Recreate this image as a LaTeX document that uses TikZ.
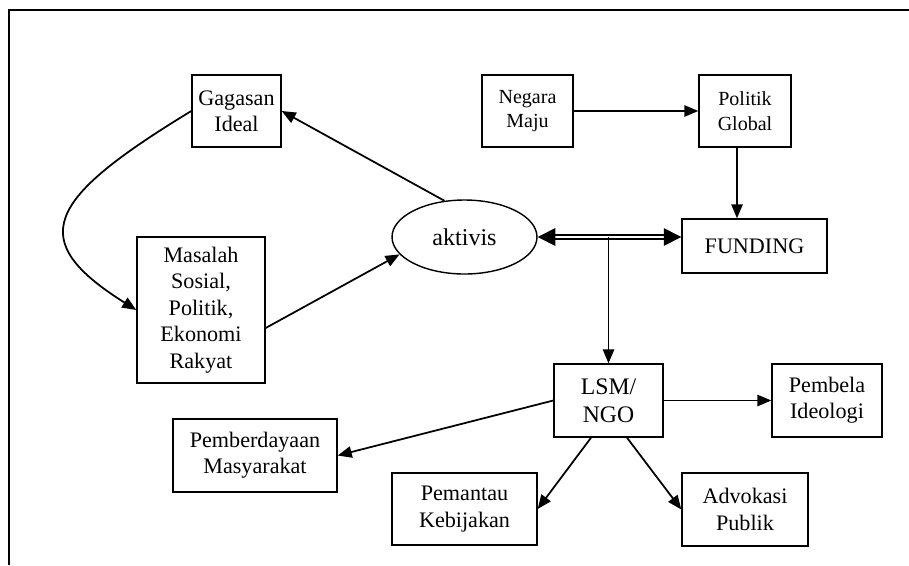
\documentclass[tikz,border=0pt]{standalone}
\usepackage{fontspec}
\setmainfont{Liberation Serif}
\usetikzlibrary{arrows.meta}
\usetikzlibrary{calc}
\usetikzlibrary{shapes.geometric}

\begin{document}
\begin{tikzpicture}[x=0.02cm, y=-0.02cm,
  box/.style={draw, line width=0.8pt, align=center, inner sep=0pt,
    font=\fontsize{12.6}{15}\selectfont},
  smallbox/.style={box, font=\fontsize{11.4}{14}\selectfont},
  arr/.style={-{Triangle[length=8pt,width=6.5pt]}, line width=1pt},
  dblarr/.style={{Triangle[length=10pt,width=10pt]}-{Triangle[length=10pt,width=10pt]},
    double, double distance=1.6pt, line width=0.75pt},
  frame/.style={line width=1.5pt}]
\useasboundingbox (0,0) rectangle (909,565);

% outer frame (top and left only)
\draw[frame] (909,10) -- (9,10) -- (9,565);

% left loop
\node[box, minimum width=1.78cm, minimum height=1.44cm] (gagasan) at (236.5,111) {Gagasan\\Ideal};
\node[box, minimum width=2.56cm, minimum height=2.92cm] (masalah) at (201,310)
  {Masalah\\Sosial,\\Politik,\\Ekonomi\\Rakyat};
\node[draw, ellipse, line width=0.8pt, inner sep=0pt, minimum width=2.9cm, minimum height=1.48cm,
  font=\fontsize{13.7}{16}\selectfont] (aktivis) at (464.5,237) {aktivis};

% top right
\node[smallbox, minimum width=1.82cm, minimum height=1.44cm] (negara) at (527.5,111) {Negara\\Maju};
\node[smallbox, minimum width=1.84cm, minimum height=1.44cm] (politik) at (745,111) {Politik\\Global};
\node[box, minimum width=2.9cm, minimum height=1.08cm] (funding) at (754.5,246) {FUNDING};

% bottom
\node[box, minimum width=2.18cm, minimum height=1.46cm, font=\fontsize{13.5}{16}\selectfont]
  (lsm) at (608.5,400.5) {LSM/\\NGO};
\node[box, minimum width=2.2cm, minimum height=1.46cm] (pembela) at (827,400.5) {Pembela\\Ideologi};
\node[box, minimum width=3.28cm, minimum height=1.46cm] (pemberdayaan) at (255,455.5) {Pemberdayaan\\Masyarakat};
\node[box, minimum width=2.9cm, minimum height=1.44cm] (pemantau) at (464.5,509) {Pemantau\\Kebijakan};
\node[box, minimum width=2.52cm, minimum height=1.46cm] (advokasi) at (745,509.5) {Advokasi\\Publik};

\coordinate (pf) at ([xshift=-0.16cm]politik.south);
\coordinate (mo) at ([yshift=-0.36cm]masalah.east);

\draw[arr] (aktivis.119) -- (gagasan.east);
\draw[arr] (gagasan.west) .. controls (45,200) and (25,240) .. (masalah.west);
\draw[arr] (mo) -- (aktivis.195);

\draw[arr] (negara.east) -- (politik.west);
\draw[arr] (pf) -- (pf |- funding.north);
\draw[dblarr] (aktivis.east) -- (funding.west |- aktivis.east);
\draw[arr] (lsm.north |- aktivis.east) -- (lsm.north);

\draw[arr] (lsm.east) -- (pembela.west);
\draw[arr] (lsm.west) -- (pemberdayaan.east);
\draw[arr] ([xshift=-0.35cm]lsm.south) -- (pemantau.east);
\draw[arr] ([xshift=0.37cm]lsm.south) -- (advokasi.west);
\end{tikzpicture}
\end{document}
